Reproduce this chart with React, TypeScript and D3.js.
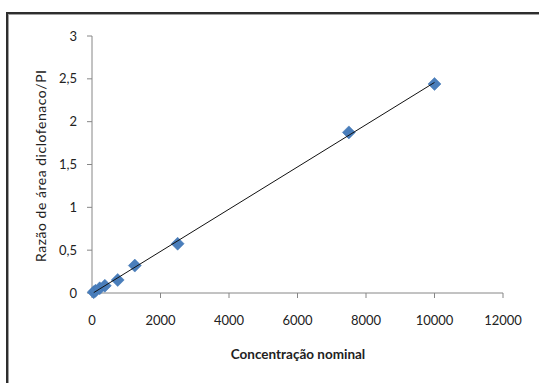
import React from "react";
import * as d3 from "d3";

const concentrations = [50, 100, 225, 375, 750, 1250, 2500, 7500, 10000];
const ratios = [0.01, 0.025, 0.055, 0.085, 0.152, 0.32, 0.575, 1.875, 2.44];
const xTicks = [0, 2000, 4000, 6000, 8000, 10000, 12000];
const yTicks = [0, 0.5, 1, 1.5, 2, 2.5, 3];
const xTitle = "Concentração nominal";
const yTitle = "Razão de área diclofenaco/PI";

export default function App() {
  const W = 539, H = 383;
  const x = d3.scaleLinear().domain([0, 12000]).range([92, 503]);
  const y = d3.scaleLinear().domain([0, 3]).range([293, 36]);
  const fmtY = (v: number) => String(v).replace(".", ",");
  const mx = d3.mean(concentrations)!;
  const my = d3.mean(ratios)!;
  let sxy = 0, sxx = 0;
  concentrations.forEach((c, i) => {
    sxy += (c - mx) * (ratios[i] - my);
    sxx += (c - mx) * (c - mx);
  });
  const slope = sxy / sxx;
  const intercept = my - slope * mx;
  const x0 = d3.min(concentrations)!, x1 = d3.max(concentrations)!;
  const font = "Lato, 'Open Sans', sans-serif";
  const axisColor = "#868686";
  return (
    <svg width={W} height={H} style={{ position: "absolute", left: 0, top: 0, background: "#fff" }}>
      <rect x={7} y={13} width={600} height={400} fill="#fff" stroke="#2e2e2e" strokeWidth={2} />
      <rect x={8.5} y={14.5} width={600} height={400} fill="none" stroke="#a0a0a0" strokeWidth={1} />
      <line x1={x(0)} x2={x(12000)} y1={y(0)} y2={y(0)} stroke={axisColor} strokeWidth={1} />
      <line x1={x(0)} x2={x(0)} y1={y(0)} y2={y(3)} stroke={axisColor} strokeWidth={1} />
      {yTicks.map((t) => (
        <g key={"y" + t}>
          <line x1={x(0) - 5} x2={x(0)} y1={y(t)} y2={y(t)} stroke={axisColor} />
          <text x={77} y={y(t)} dy="0.35em" textAnchor="end" fontFamily={font} fontSize={13} fill="#222">
            {fmtY(t)}
          </text>
        </g>
      ))}
      {xTicks.map((t) => (
        <g key={"x" + t}>
          <line x1={x(t)} x2={x(t)} y1={y(0)} y2={y(0) + 5} stroke={axisColor} />
          <text x={x(t)} y={320} dy="0.35em" textAnchor="middle" fontFamily={font} fontSize={13} fill="#222">
            {t}
          </text>
        </g>
      ))}
      <text x={298} y={354} dy="0.35em" textAnchor="middle" fontFamily={font} fontSize={13.5} fontWeight="bold" fill="#222">
        {xTitle}
      </text>
      <text
        transform={`translate(41,166) rotate(-90)`}
        dy="0.35em"
        textAnchor="middle"
        fontFamily={font}
        fontSize={14}
        textLength={192}
        lengthAdjust="spacing"
        fill="#222"
      >
        {yTitle}
      </text>
      {concentrations.map((c, i) => {
        const cx = x(c), cy = y(ratios[i]);
        const r = 6.5;
        return (
          <path
            key={i}
            d={`M${cx},${cy - r}L${cx + r},${cy}L${cx},${cy + r}L${cx - r},${cy}Z`}
            fill="#4A7EBB"
            stroke="#3f74b3"
            strokeWidth={0.5}
          />
        );
      })}
      <line
        x1={x(x0)}
        y1={y(intercept + slope * x0)}
        x2={x(x1)}
        y2={y(intercept + slope * x1)}
        stroke="#111"
        strokeWidth={1}
      />
    </svg>
  );
}
